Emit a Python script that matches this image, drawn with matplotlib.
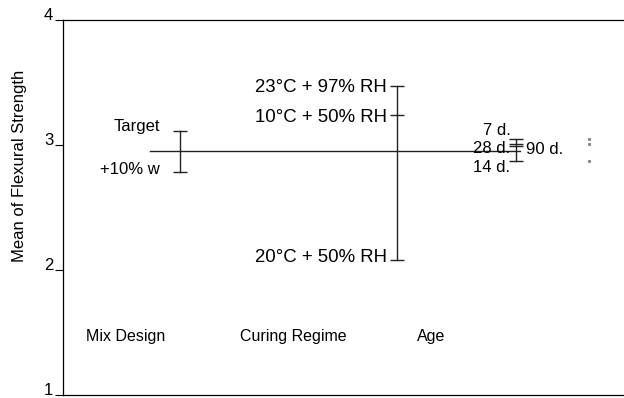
import numpy as np
import matplotlib.pyplot as plt

plt.rcParams['font.family'] = ['Liberation Sans', 'DejaVu Sans']
plt.rcParams['font.size'] = 12

# --- Данные (средние значения прочности на изгиб) ---
factors = ["Mix Design", "Curing Regime", "Age"]
mix_levels = ["Target", "+10% w"]
mix_means = [3.112, 2.786]
curing_levels = ["23°C + 97% RH", "10°C + 50% RH", "20°C + 50% RH"]
curing_means = [3.474, 3.24, 2.082]
age_levels = ["7 d.", "28 d.", "90 d.", "14 d."]
age_means = [3.045, 3.005, 2.995, 2.87]
grand_mean = 2.952

# --- Расположение (в пикселях по оси x) ---
x_mix, x_cur, x_age = 180, 397, 516.5
x_names = [125.5, 293, 431]
y_names = 1.47

fig = plt.figure(figsize=(6.24, 3.98), dpi=100)
ax = fig.add_axes([63 / 624, 3 / 398, 1 - 63 / 624, 375 / 398])
ax.set_xlim(63, 624)
ax.set_ylim(1, 4)

ax.spines['right'].set_visible(False)
for s in ['left', 'top', 'bottom']:
    ax.spines[s].set_linewidth(0.9)
ax.set_xticks([])
ax.set_yticks([1, 2, 3, 4])
ax.tick_params(axis='y', length=6, width=0.8, pad=1, labelsize=12)
for lab in ax.get_yticklabels():
    lab.set_va('baseline')
fig.text(20 / 624, 1 - 166 / 398, "Mean of Flexural Strength", rotation=90,
         ha='center', va='center', fontsize=12)

lc = '#222222'
# общая средняя линия
ax.plot([150, 520], [grand_mean, grand_mean], color=lc, lw=1)

def factor(x, means):
    ax.plot([x, x], [min(means), max(means)], color=lc, lw=1)
    ax.plot([x] * len(means), means, ls='none', marker='_', ms=10, mew=1, color=lc)

factor(x_mix, mix_means)
factor(x_cur, curing_means)
factor(x_age, age_means)

# подписи уровней
ax.annotate(mix_levels[0], (x_mix, mix_means[0]), xytext=(-20, 4), textcoords='offset pixels',
            ha='right', va='center', fontsize=12)
ax.annotate(mix_levels[1], (x_mix, mix_means[1]), xytext=(-20, 2), textcoords='offset pixels',
            ha='right', va='center', fontsize=12)
cur_dy = [-2, -2, 2]
for name, m, dy in zip(curing_levels, curing_means, cur_dy):
    ax.annotate(name, (x_cur, m), xytext=(-10, dy), textcoords='offset pixels',
                ha='right', va='center', fontsize=13.4)

age_offsets = [(-6, 9), (-6, -4), (10, -4), (-6, -6)]
for name, m, off in zip(age_levels, age_means, age_offsets):
    ax.annotate(name, (x_age, m), xytext=off, textcoords='offset pixels',
                ha='right' if off[0] < 0 else 'left', va='center', fontsize=12)

# мелкие отметки справа (обрезанный фактор)
ax.plot([589] * 3, [age_means[0], age_means[1], age_means[3]], ls='none',
        marker='s', ms=1.2, color='#888888')

for x, name in zip(x_names, factors):
    ax.text(x, y_names, name, ha='center', va='center', fontsize=11.5)

fig.savefig("out.png", dpi=100)
